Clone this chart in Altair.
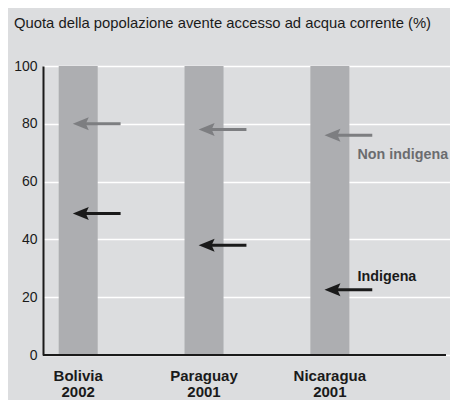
import altair as alt
import pandas as pd

# ---- data ----
countries = ["Bolivia", "Paraguay", "Nicaragua"]
years = ["2002", "2001", "2001"]
totale = [100, 100, 100]
non_indigena = [80, 78, 76]
indigena = [49, 38, 22.6]

FONT = "Liberation Sans"
BG = "#dcdddf"
BAR = "#adaeb1"
GRAY_ARROW = "#7d7e81"
GRAY_TEXT = "#6b6c6f"
BLACK = "#1a1a1a"

# layout helpers (x positions in units; one unit per category)
pos = [i + 0.24 for i in range(len(countries))]
XMAX = 3.155
TIP = -0.043
SHAFT0 = 0.03
TAIL = 0.337

bars = pd.DataFrame({"pos": pos, "v": totale})
labels = pd.DataFrame({"pos": pos, "lab": [f"{c}\n{y}" for c, y in zip(countries, years)]})

rows = []
for p, ni, ind in zip(pos, non_indigena, indigena):
    rows.append({"grp": "Non indigena", "v": ni, "tip": p + TIP, "s0": p + SHAFT0, "s1": p + TAIL})
    rows.append({"grp": "Indigena", "v": ind, "tip": p + TIP, "s0": p + SHAFT0, "s1": p + TAIL})
arrows = pd.DataFrame(rows)

xs = alt.Scale(domain=[0, XMAX], nice=False, zero=False)
ys = alt.Scale(domain=[0, 100], nice=False)
col = alt.Scale(domain=["Non indigena", "Indigena"], range=[GRAY_ARROW, BLACK])

base_y_axis = alt.Axis(
    values=[0, 20, 40, 60, 80, 100], grid=True, gridColor="white", gridWidth=1.6,
    domainColor=BLACK, domainWidth=2, ticks=False, labelFont=FONT, labelFontSize=14,
    labelColor=BLACK, labelPadding=6, title=None,
)

bar_layer = alt.Chart(bars).mark_bar(size=39, color=BAR).encode(
    x=alt.X("pos:Q", scale=xs, axis=None),
    y=alt.Y("v:Q", scale=ys, axis=base_y_axis),
)

xline = alt.Chart(bars).mark_rule(color=BLACK, strokeWidth=2).encode(
    x=alt.value(0), x2=alt.value(403), y=alt.datum(0, scale=ys)
)

xlab = alt.Chart(labels).mark_text(
    font=FONT, fontSize=15, fontWeight="bold", color=BLACK, align="center",
    baseline="alphabetic", dy=26, lineBreak="\n", lineHeight=16,
).encode(x=alt.X("pos:Q", scale=xs), y=alt.datum(0, scale=ys), text="lab:N")

shaft = alt.Chart(arrows).mark_rule(strokeWidth=3).encode(
    x=alt.X("s0:Q", scale=xs), x2="s1:Q", y=alt.Y("v:Q", scale=ys),
    color=alt.Color("grp:N", scale=col, legend=None),
)

head = alt.Chart(arrows).mark_point(
    shape="M0,0 L1.6,-0.65 L1.3,0 L1.6,0.65 Z", size=400, filled=True, opacity=1, strokeWidth=0,
).encode(
    x=alt.X("tip:Q", scale=xs), y=alt.Y("v:Q", scale=ys),
    color=alt.Color("grp:N", scale=col, legend=None),
)

last = arrows.iloc[-2:].copy()
last["lx"] = last["tip"] - TIP + 0.22
lab_ni = alt.Chart(last[last.grp == "Non indigena"]).mark_text(
    font=FONT, fontSize=14.3, fontWeight="bold", color=GRAY_TEXT, align="left",
    baseline="alphabetic", dy=24,
).encode(x=alt.X("lx:Q", scale=xs), y=alt.Y("v:Q", scale=ys), text="grp:N")
lab_i = alt.Chart(last[last.grp == "Indigena"]).mark_text(
    font=FONT, fontSize=14.3, fontWeight="bold", color=BLACK, align="left",
    baseline="alphabetic", dy=-9,
).encode(x=alt.X("lx:Q", scale=xs), y=alt.Y("v:Q", scale=ys), text="grp:N")

chart = alt.layer(bar_layer, xline, shaft, head, xlab, lab_ni, lab_i).properties(
    width=407, height=289,
    autosize=alt.AutoSizeParams(type="none"),
    padding={"left": 35, "top": 58, "right": 0, "bottom": 45},
    background=BG,
    title=alt.TitleParams(
        "Quota della popolazione avente accesso ad acqua corrente (%)",
        font=FONT, fontSize=14.8, fontWeight="normal", color=BLACK,
        anchor="start", frame="group", dx=-29, offset=16, baseline="alphabetic",
    ),
).configure_view(stroke=None)

chart.save("out.html", embed_options={"renderer": "svg", "actions": False})
